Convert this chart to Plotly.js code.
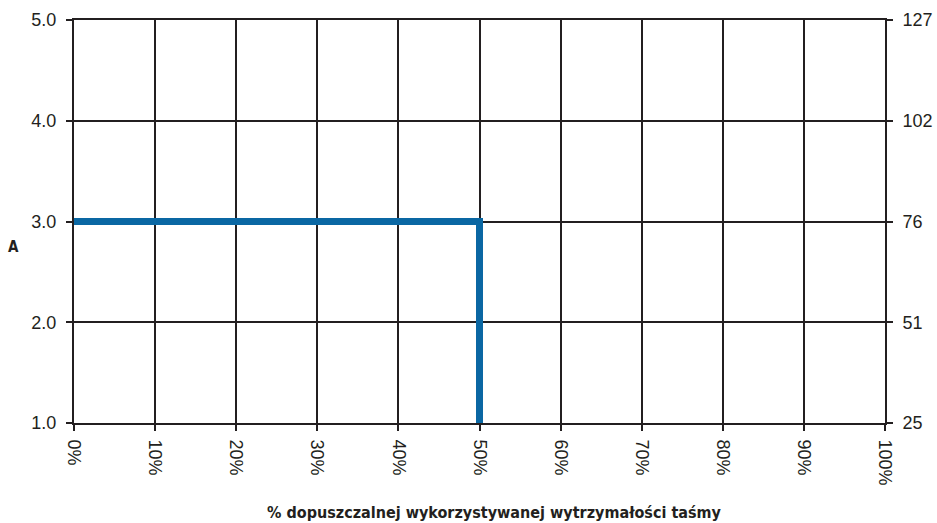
<!DOCTYPE html>
<html>
<head>
<meta charset="utf-8">
<script src="https://cdn.plot.ly/plotly-3.0.1.min.js"></script>
<style>html,body{margin:0;padding:0;background:#fff;}#chart{width:937px;height:523px;}</style>
</head>
<body>
<div id="chart"></div>
<script>
const xPercent = [0, 50, 50];
const yValue = [3, 3, 1];
const xTickVals = [0,10,20,30,40,50,60,70,80,90,100];
const xTickText = ["0%","10%","20%","30%","40%","50%","60%","70%","80%","90%","100%"];
const leftTickVals = [1,2,3,4,5];
const leftTickText = ["1.0","2.0","3.0","4.0","5.0"];
const rightTickText = ["25","51","76","102","127"];
const xTitle = "% dopuszczalnej wykorzystywanej wytrzymałości taśmy";
const yTitle = "A";

const ink = "#231f20";
const tickFont = {family: "Liberation Sans, Arial, sans-serif", size: 18, color: ink};
const titleFamily = "DejaVu Sans Condensed, Liberation Sans Narrow, Arial Narrow, sans-serif";

const data = [{
  x: xPercent, y: yValue, type: "scatter", mode: "lines",
  line: {color: "#0a67a3", width: 7}, hoverinfo: "skip", showlegend: false
}, {
  x: [0, 100], y: [1, 5], yaxis: "y2", type: "scatter", mode: "markers",
  marker: {opacity: 0}, hoverinfo: "skip", showlegend: false
}];

const layout = {
  width: 937, height: 523,
  margin: {l: 74, r: 52, t: 20, b: 100},
  paper_bgcolor: "#fff", plot_bgcolor: "#fff",
  showlegend: false,
  xaxis: {
    range: [0, 100], tickvals: xTickVals, ticktext: xTickText, tickangle: 90,
    showgrid: true, gridcolor: ink, gridwidth: 2,
    showline: true, linecolor: ink, linewidth: 2, mirror: true,
    ticks: "outside", ticklen: 6, tickcolor: ink, tickwidth: 2,
    ticklabelstandoff: 5,
    tickfont: tickFont, zeroline: false, fixedrange: true
  },
  yaxis: {
    range: [1, 5], tickvals: leftTickVals, ticktext: leftTickText,
    showgrid: true, gridcolor: ink, gridwidth: 2,
    showline: true, linecolor: ink, linewidth: 2,
    ticks: "outside", ticklen: 6, tickcolor: ink, tickwidth: 2,
    ticklabelstandoff: 6,
    tickfont: tickFont, zeroline: false, fixedrange: true
  },
  yaxis2: {
    range: [1, 5], overlaying: "y", side: "right",
    tickvals: leftTickVals, ticktext: rightTickText,
    showgrid: false, showline: true, linecolor: ink, linewidth: 2,
    ticks: "outside", ticklen: 6, tickcolor: ink, tickwidth: 2,
    ticklabelstandoff: 6,
    tickfont: tickFont, zeroline: false, fixedrange: true
  },
  annotations: [{
    text: "<b>" + xTitle + "</b>", xref: "paper", yref: "paper",
    x: 0.519, y: -0.221, xanchor: "center", yanchor: "middle", showarrow: false,
    font: {family: titleFamily, size: 16, color: ink}
  }, {
    text: "<b>" + yTitle + "</b>", xref: "paper", yref: "paper",
    x: -0.074, y: 0.437, xanchor: "center", yanchor: "middle", showarrow: false,
    font: {family: titleFamily, size: 15, color: ink}
  }]
};

Plotly.newPlot("chart", data, layout, {displayModeBar: false, staticPlot: true});
</script>
</body>
</html>
